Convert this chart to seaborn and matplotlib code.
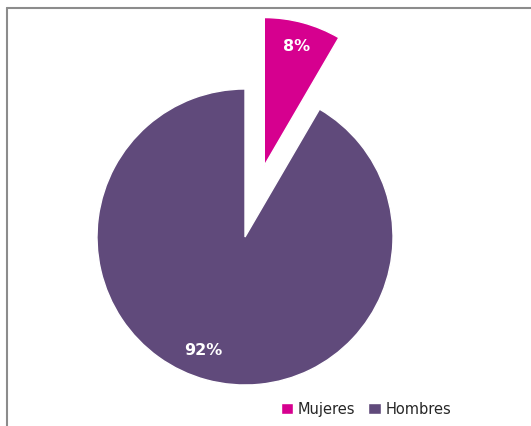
import matplotlib.pyplot as plt
import seaborn as sns
from matplotlib.lines import Line2D

categorias = ['Mujeres', 'Hombres']
porcentajes = [8.4, 91.6]
colores = ['#D6008F', '#604A7B']

sns.set_theme(style='white')
plt.rcParams['font.family'] = ['DejaVu Sans']

fig = plt.figure(figsize=(5.31, 4.27), dpi=100)
ax = fig.add_axes([0, 0, 1, 1])

wedges, textos, autotextos = ax.pie(
    porcentajes, colors=colores, startangle=90, counterclock=False,
    explode=[0.5, 0], autopct='%1.0f%%', pctdistance=0.84,
    textprops={'color': 'white', 'fontsize': 11.5, 'fontweight': 'bold'})

# el rótulo de 92% queda algo más a la izquierda en el original
autotextos[1].set_position((-0.28, -0.76))

# escala: radio 148 px, centro en (245, 238) px
r = 148
ax.set_xlim(-245 / r, (531 - 245) / r)
ax.set_ylim(-(427 - 238) / r, 238 / r)
ax.set_aspect('auto')
ax.axis('off')

# marco del gráfico
fig.add_artist(Line2D([7 / 531, 1], [1 - 9 / 427] * 2, color='#8c8c8c', lw=1.5))
fig.add_artist(Line2D([7 / 531] * 2, [0, 1 - 9 / 427], color='#8c8c8c', lw=1.5))

fig.legend(wedges, categorias, loc='center', bbox_to_anchor=(366 / 531, 1 - 410 / 427),
           ncol=2, frameon=False, fontsize=10.5, handlelength=0.85, handleheight=0.85,
           handletextpad=0.3, columnspacing=0.9)

plt.savefig('out.png', dpi=100)
plt.close()
